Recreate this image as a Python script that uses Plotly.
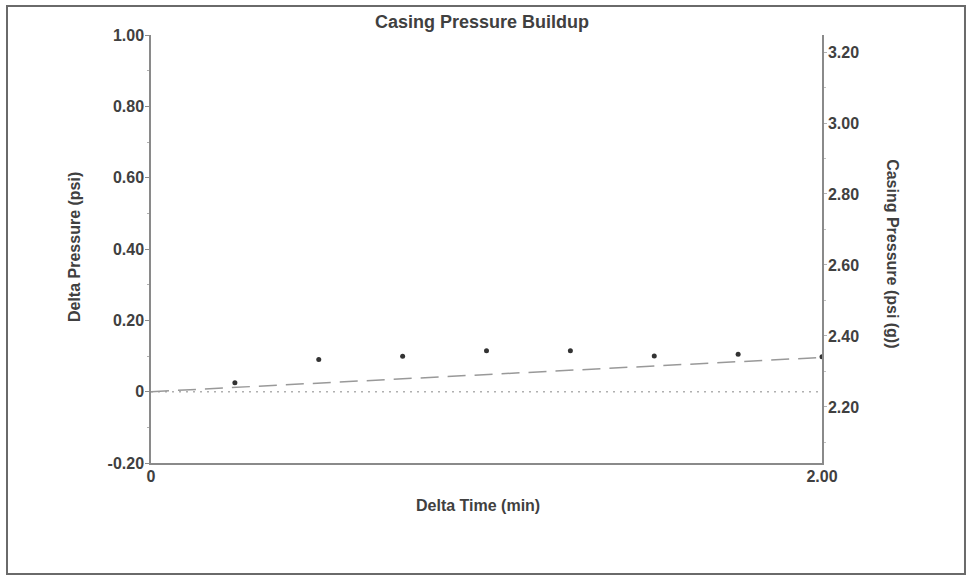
import plotly.graph_objects as go

# ---- data ----
delta_time = [0.25, 0.5, 0.75, 1.0, 1.25, 1.5, 1.75, 2.0]
delta_pressure = [0.025, 0.090, 0.099, 0.115, 0.115, 0.100, 0.105, 0.098]

fit_time = [0.0, 2.0]
fit_pressure = [0.0, 0.096]

zero_time = [0.0, 2.0]
zero_pressure = [0.0, 0.0]

left_ticks = [-0.2, 0.0, 0.2, 0.4, 0.6, 0.8, 1.0]
left_labels = ["-0.20", "0", "0.20", "0.40", "0.60", "0.80", "1.00"]
right_ticks = [2.2, 2.4, 2.6, 2.8, 3.0, 3.2]
right_labels = ["2.20", "2.40", "2.60", "2.80", "3.00", "3.20"]
x_ticks = [0.0, 2.0]
x_labels = ["0", "2.00"]

FONT = "Liberation Sans"
TXT = "#404040"
AX = "#8a8a8a"

fig = go.Figure()

fig.add_trace(go.Scatter(x=zero_time, y=zero_pressure, mode="lines",
                         line=dict(color="#b0b0b0", width=1.5, dash="2px,5px"),
                         hoverinfo="skip", showlegend=False))
fig.add_trace(go.Scatter(x=fit_time, y=fit_pressure, mode="lines",
                         line=dict(color="#999999", width=1.5, dash="18px,9px"),
                         hoverinfo="skip", showlegend=False))
fig.add_trace(go.Scatter(x=delta_time, y=delta_pressure, mode="markers",
                         marker=dict(color="#333333", size=5),
                         showlegend=False))
# empty trace so the right-hand axis is drawn
fig.add_trace(go.Scatter(x=[], y=[], yaxis="y2", mode="markers",
                         hoverinfo="skip", showlegend=False))

tickfont = dict(family=FONT, size=16, color=TXT, weight="bold")

fig.update_layout(
    width=973, height=579,
    margin=dict(l=151, r=151, t=35, b=116),
    paper_bgcolor="white", plot_bgcolor="white",
    showlegend=False,
    xaxis=dict(range=[0, 2], tickvals=x_ticks, ticktext=x_labels,
               showgrid=False, zeroline=False, showline=True,
               linecolor=AX, linewidth=1.5, ticks="", tickfont=tickfont,
               ticklabelstandoff=-2, fixedrange=True),
    yaxis=dict(range=[-0.2, 1.0], tickvals=left_ticks, ticktext=left_labels,
               showgrid=False, zeroline=False, showline=True,
               linecolor=AX, linewidth=1.5, ticks="outside", ticklen=4,
               tickcolor=AX, tickfont=tickfont, ticklabelstandoff=-2,
               minor=dict(dtick=0.1, tick0=0, ticks="outside", ticklen=2, tickcolor="#b0b0b0"),
               fixedrange=True),
    yaxis2=dict(range=[2.042, 3.248], tickvals=right_ticks, ticktext=right_labels,
                overlaying="y", side="right", anchor="x",
                showgrid=False, zeroline=False, showline=True,
                linecolor=AX, linewidth=1.5, ticks="outside", ticklen=3,
                tickcolor="#b0b0b0", tickfont=tickfont, ticklabelstandoff=-2,
                minor=dict(dtick=0.1, tick0=0, ticks="outside", ticklen=2, tickcolor="#c0c0c0"),
                fixedrange=True),
    annotations=[
        dict(text="Casing Pressure Buildup", x=0.494, y=1.030, xref="paper", yref="paper",
             showarrow=False, xanchor="center", yanchor="middle",
             font=dict(family=FONT, size=18, color=TXT, weight="bold")),
        dict(text="Delta Time (min)", x=0.487, y=-0.1, xref="paper", yref="paper",
             showarrow=False, xanchor="center", yanchor="middle",
             font=dict(family=FONT, size=16, color=TXT, weight="bold")),
        dict(text="Delta Pressure (psi)", x=-0.113, y=0.505, xref="paper", yref="paper",
             showarrow=False, xanchor="center", yanchor="middle", textangle=-90,
             font=dict(family=FONT, size=16, color=TXT, weight="bold")),
        dict(text="Casing Pressure (psi (g))", x=1.106, y=0.49, xref="paper", yref="paper",
             showarrow=False, xanchor="center", yanchor="middle", textangle=90,
             font=dict(family=FONT, size=16, color=TXT, weight="bold")),
    ],
    shapes=[
        dict(type="rect", xref="paper", yref="paper",
             x0=-0.2146, x1=1.2131, y0=-0.2593, y1=1.0678,
             line=dict(color="#6a6a6a", width=2), fillcolor="rgba(0,0,0,0)"),
    ],
)

fig.write_html("out.html", config={"displayModeBar": False},
               post_script="document.body.style.margin='0';")
